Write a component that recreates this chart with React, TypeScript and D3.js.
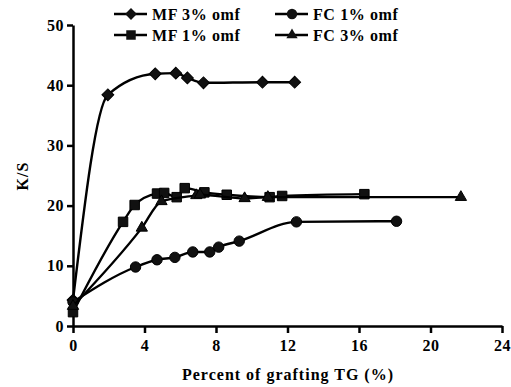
import { useRef, useEffect } from 'react';
import * as d3 from 'd3';

// Percent of grafting TG (%) vs K/S
const mf3X = [0, 1.95, 4.6, 5.75, 6.4, 7.3, 10.6, 12.4];
const mf3Y = [4.3, 38.4, 41.9, 42.0, 41.2, 40.4, 40.5, 40.5];

const mf1X = [0, 2.8, 3.45, 4.7, 5.1, 5.8, 6.25, 7.35, 8.6, 11.0, 11.7, 16.3];
const mf1Y = [2.3, 17.3, 20.1, 22.0, 22.1, 21.4, 22.9, 22.2, 21.8, 21.4, 21.6, 21.9];

const fc1X = [0, 3.5, 4.7, 5.7, 6.7, 7.65, 8.15, 9.3, 12.5, 18.1];
const fc1Y = [4.0, 9.8, 11.0, 11.4, 12.3, 12.3, 13.1, 14.1, 17.3, 17.4];

const fc3X = [0, 3.85, 4.95, 6.9, 7.1, 9.6, 10.9, 21.7];
const fc3Y = [3.3, 16.3, 20.7, 21.7, 21.8, 21.2, 21.4, 21.4];

const xTicks = [0, 4, 8, 12, 16, 20, 24];
const yTicks = [0, 10, 20, 30, 40, 50];

const seriesNames = ['MF 3% omf', 'MF 1% omf', 'FC 1% omf', 'FC 3% omf'];
const seriesSymbols = [d3.symbolSquare, d3.symbolSquare, d3.symbolCircle, d3.symbolTriangle];

export default function App() {
    const svgRef = useRef<SVGSVGElement>(null);

    useEffect(() => {
        if (!svgRef.current) return;
        const width = 511;
        const height = 387;
        const margin = { top: 25, right: 8, bottom: 61, left: 73 };

        d3.select(svgRef.current).selectAll('*').remove();
        const svg = d3.select(svgRef.current)
            .attr('width', width)
            .attr('height', height);

        const font = '"Liberation Serif", "Times New Roman", serif';

        const x = d3.scaleLinear().domain([0, 24]).range([margin.left, 502]);
        const y = d3.scaleLinear().domain([0, 50]).range([326, margin.top]);

        // Axes
        const xAxis = svg.append('g')
            .attr('transform', `translate(0,${y(0)})`)
            .call(d3.axisBottom(x).tickValues(xTicks).tickSize(7).tickSizeOuter(0));
        const yAxis = svg.append('g')
            .attr('transform', `translate(${x(0)},0)`)
            .call(d3.axisLeft(y).tickValues(yTicks).tickSize(6).tickSizeOuter(0));

        [xAxis, yAxis].forEach(a => {
            a.selectAll('.domain, .tick line').attr('stroke', '#000').attr('stroke-width', 2.5);
            a.selectAll('text')
                .attr('fill', '#000')
                .style('font-family', font)
                .style('font-weight', 'bold')
                .style('font-size', '16px')
                .style('letter-spacing', '0.5px');
        });
        xAxis.selectAll('text').attr('dy', '0.95em');
        yAxis.selectAll('text').attr('x', -9);

        // Axis titles
        svg.append('text')
            .attr('x', 288)
            .attr('y', 380)
            .attr('text-anchor', 'middle')
            .style('font-family', font)
            .style('font-weight', 'bold')
            .style('font-size', '16px')
            .style('letter-spacing', '1px')
            .text('Percent of grafting TG (%)');

        svg.append('text')
            .attr('transform', 'translate(28,176) rotate(-90)')
            .attr('text-anchor', 'middle')
            .style('font-family', font)
            .style('font-weight', 'bold')
            .style('font-size', '16px')
            .style('letter-spacing', '1px')
            .text('K/S');

        const series = [
            { xs: mf3X, ys: mf3Y },
            { xs: mf1X, ys: mf1Y },
            { xs: fc1X, ys: fc1Y },
            { xs: fc3X, ys: fc3Y },
        ];

        const line = d3.line<[number, number]>()
            .x(d => x(d[0]))
            .y(d => y(d[1]))
            .curve(d3.curveMonotoneX);

        const sizes = [70, 90, 85, 55];
        const rotations = [45, 0, 0, 0];

        series.forEach((s, i) => {
            const pts: [number, number][] = s.xs.map((v, j) => [v, s.ys[j]]);
            svg.append('path')
                .datum(pts)
                .attr('d', line)
                .attr('fill', 'none')
                .attr('stroke', '#000')
                .attr('stroke-width', 2.4);

            svg.selectAll(`.pt${i}`)
                .data(pts)
                .enter()
                .append('path')
                .attr('class', `pt${i}`)
                .attr('transform', d => `translate(${x(d[0])},${y(d[1])}) rotate(${rotations[i]})`)
                .attr('d', d3.symbol().type(seriesSymbols[i]).size(sizes[i])())
                .attr('fill', '#111')
                .attr('stroke', '#000')
                .attr('stroke-width', 1);
        });

        // Legend
        const legendPos = [
            { lx: 114, ly: 14 },
            { lx: 114, ly: 35 },
            { lx: 275, ly: 14 },
            { lx: 275, ly: 35 },
        ];
        seriesNames.forEach((name, i) => {
            const p = legendPos[i];
            const g = svg.append('g').attr('transform', `translate(${p.lx},${p.ly})`);
            g.append('line')
                .attr('x1', 0).attr('x2', 33)
                .attr('stroke', '#000')
                .attr('stroke-width', 2.5);
            g.append('path')
                .attr('transform', `translate(17,0) rotate(${rotations[i]})`)
                .attr('d', d3.symbol().type(seriesSymbols[i]).size(sizes[i])())
                .attr('fill', '#111');
            g.append('text')
                .attr('x', 38)
                .attr('dy', '0.35em')
                .style('font-family', font)
                .style('font-weight', 'bold')
                .style('font-size', '16px')
                .style('letter-spacing', '0.6px')
                .text(name);
        });
    }, []);

    return (
        <div style={{ position: 'absolute', left: 0, top: 0 }}>
            <svg ref={svgRef}></svg>
        </div>
    );
}
